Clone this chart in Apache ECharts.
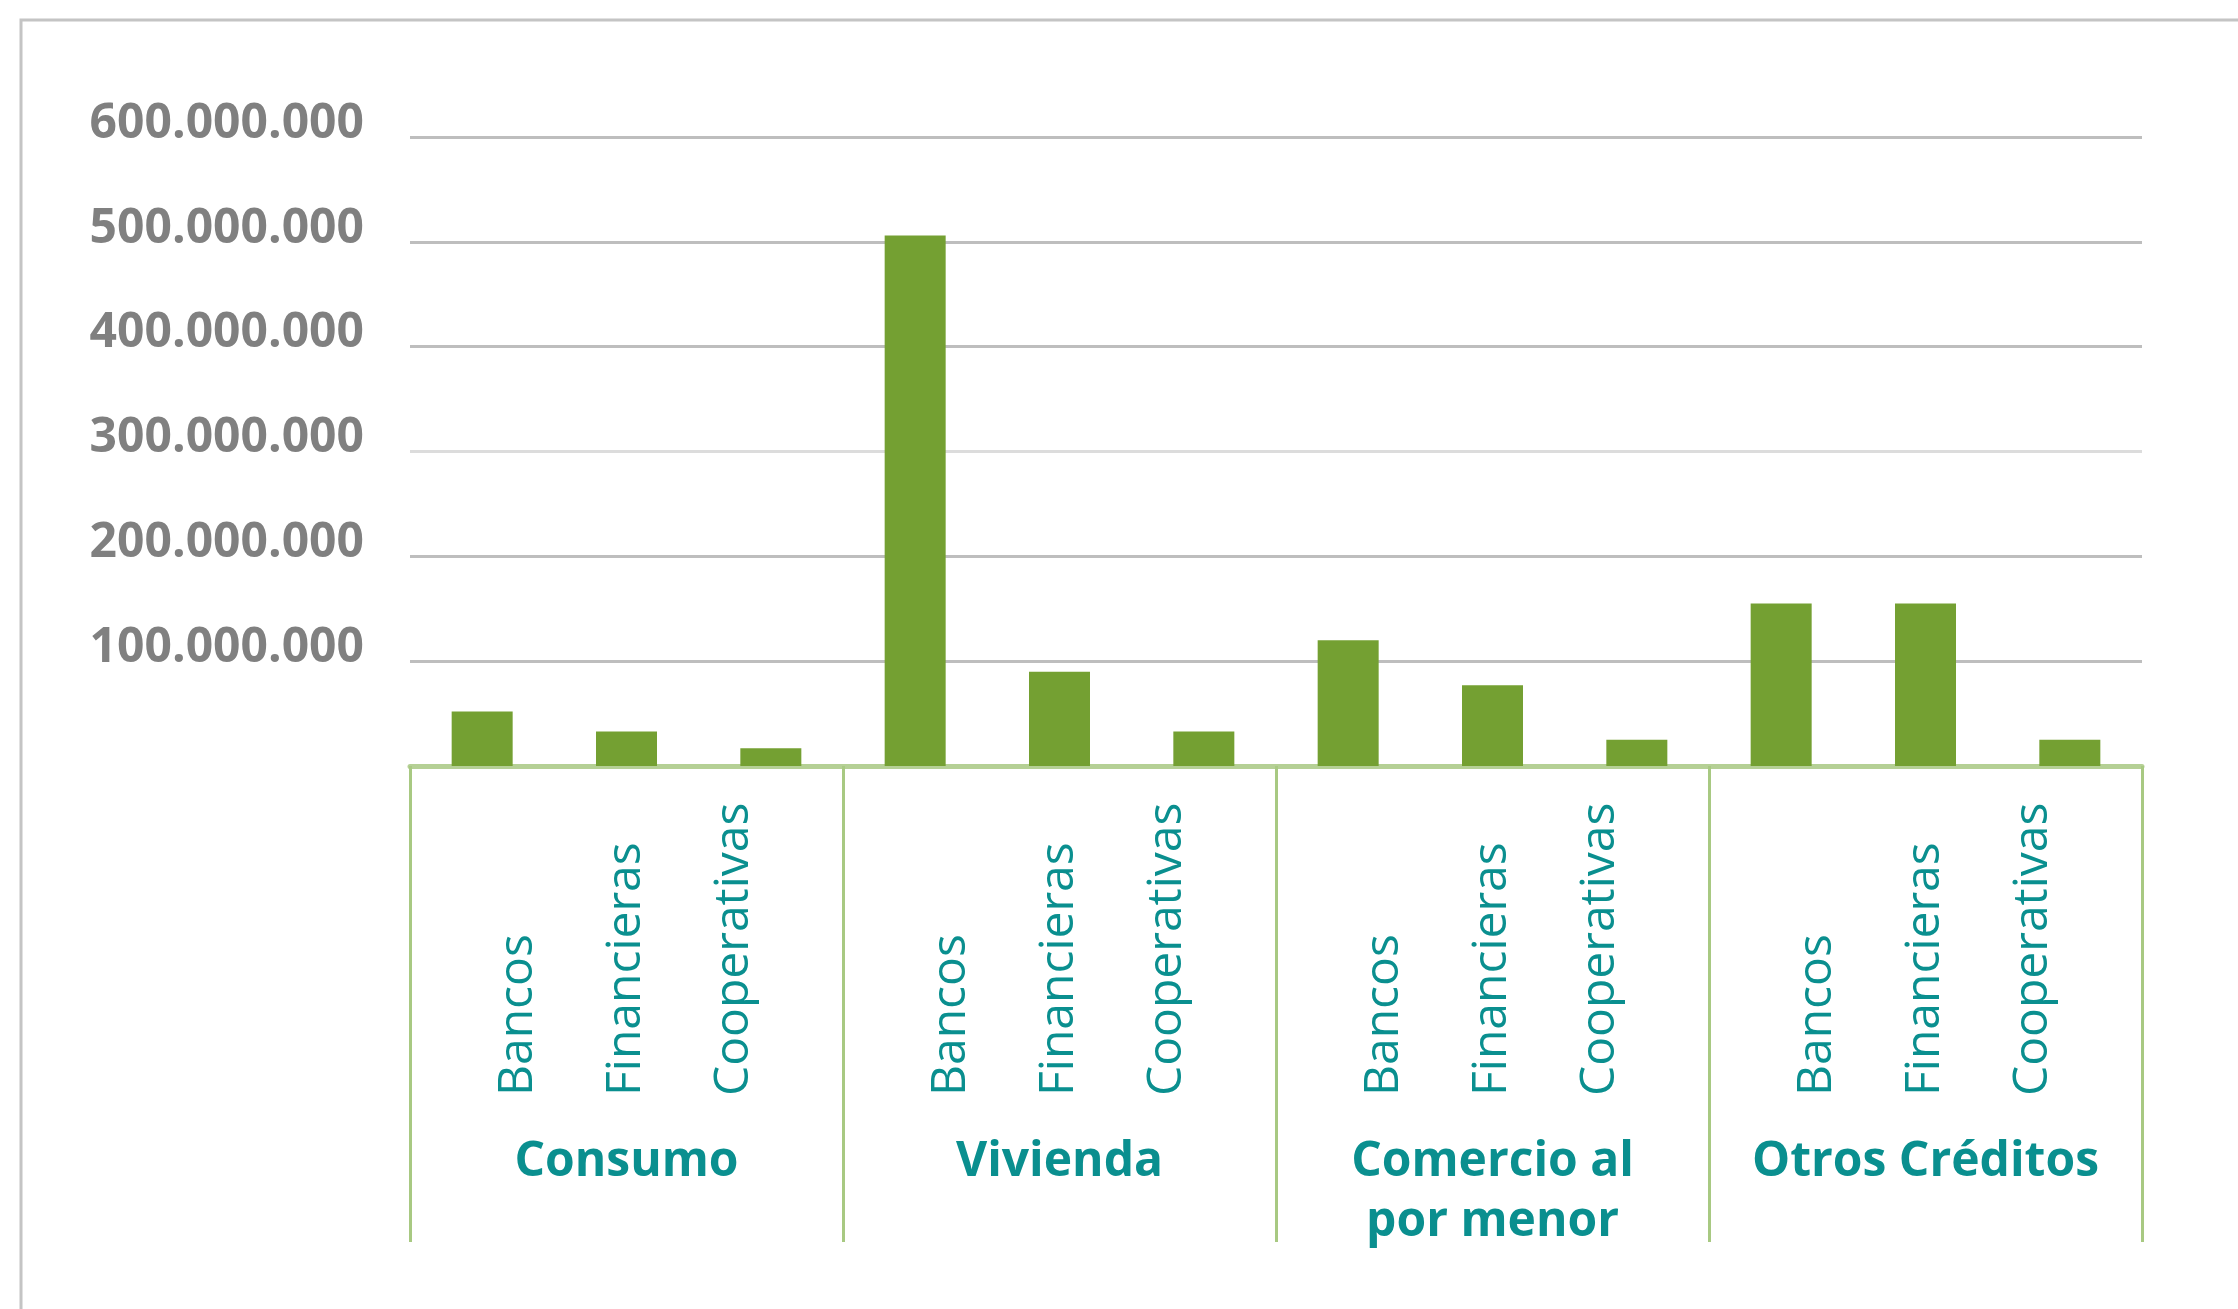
<!DOCTYPE html>
<html>
<head>
<meta charset="utf-8">
<script src="https://cdn.jsdelivr.net/npm/echarts@6/dist/echarts.min.js"></script>
<style>
  html, body { margin: 0; padding: 0; background: #ffffff; }
  #chart { width: 2238px; height: 1309px; }
</style>
</head>
<body>
<div id="chart"></div>
<script>
// 分组（下方大标签）
const groups = ['Consumo', 'Vivienda', 'Comercio al\npor menor', 'Otros Créditos'];
// 每组里的机构类型
const entities = ['Bancos', 'Financieras', 'Cooperativas'];
// 12 个柱子的类别
const categories = [
  'Bancos', 'Financieras', 'Cooperativas',
  'Bancos', 'Financieras', 'Cooperativas',
  'Bancos', 'Financieras', 'Cooperativas',
  'Bancos', 'Financieras', 'Cooperativas'
];
// 柱子数值
const values = [
  52000000, 33000000, 17000000,
  506000000, 90000000, 33000000,
  120000000, 77000000, 25000000,
  155000000, 155000000, 25000000
];
// y 轴范围
const yMin = 0;
const yMax = 600000000;
const yStep = 100000000;

const teal = '#0a8f8f';
const fontFamily = '"Open Sans", "DejaVu Sans", sans-serif';

// 千位用点分隔
function fmtNumber(v) {
  return String(Math.round(v)).replace(/\B(?=(\d{3})+(?!\d))/g, '.');
}

const chart = echarts.init(document.getElementById('chart'));

const option = {
  backgroundColor: '#ffffff',
  animation: false,
  graphic: [
    {
      type: 'rect',
      shape: { x: 21, y: 20, width: 2400, height: 1400 },
      style: { fill: 'none', stroke: '#c4c4c4', lineWidth: 3 },
      silent: true,
      z: -10
    }
  ],
  grid: {
    left: 410,
    right: 96,
    top: 137,
    bottom: 543
  },
  xAxis: [
    {
      type: 'category',
      position: 'bottom',
      data: categories,
      axisLine: { show: true, lineStyle: { color: '#b5d095', width: 5 } },
      axisTick: { show: false },
      axisLabel: {
        interval: 0,
        rotate: 90,
        align: 'left',
        margin: 330,
        // 每个机构的标签左右偏移不同
        formatter: function (v, i) {
          return '{e' + (i % 3) + '|' + v + '}';
        },
        rich: {
          e0: { fontSize: 48, fontFamily: fontFamily, color: teal, padding: [72, 0, 0, 0] },
          e1: { fontSize: 48, fontFamily: fontFamily, color: teal },
          e2: { fontSize: 48, fontFamily: fontFamily, color: teal, padding: [0, 0, 74, 0] }
        }
      }
    },
    {
      type: 'category',
      position: 'bottom',
      data: groups,
      axisLine: { show: false },
      axisTick: {
        show: true,
        interval: 0,
        length: 476,
        lineStyle: { color: '#a8c982', width: 3 }
      },
      axisLabel: {
        interval: 0,
        margin: 366,
        fontSize: 48,
        fontWeight: 'bold',
        fontFamily: fontFamily,
        color: teal,
        lineHeight: 60
      }
    }
  ],
  yAxis: {
    type: 'value',
    min: yMin,
    max: yMax,
    interval: yStep,
    axisLine: { show: false },
    axisTick: { show: false },
    axisLabel: {
      showMinLabel: false,
      margin: 46,
      fontSize: 48,
      fontWeight: 'bold',
      fontFamily: fontFamily,
      color: '#808080',
      verticalAlign: 'bottom',
      lineHeight: 26,
      formatter: fmtNumber
    },
    splitLine: {
      show: true,
      lineStyle: {
        color: ['#bebebe', '#bebebe', '#bebebe', '#dcdcdc', '#bebebe', '#bebebe', '#bebebe'],
        width: 3
      }
    }
  },
  series: [
    {
      type: 'bar',
      xAxisIndex: 0,
      data: values,
      barWidth: 61,
      itemStyle: { color: '#74a032' }
    }
  ]
};

chart.setOption(option);
</script>
</body>
</html>
